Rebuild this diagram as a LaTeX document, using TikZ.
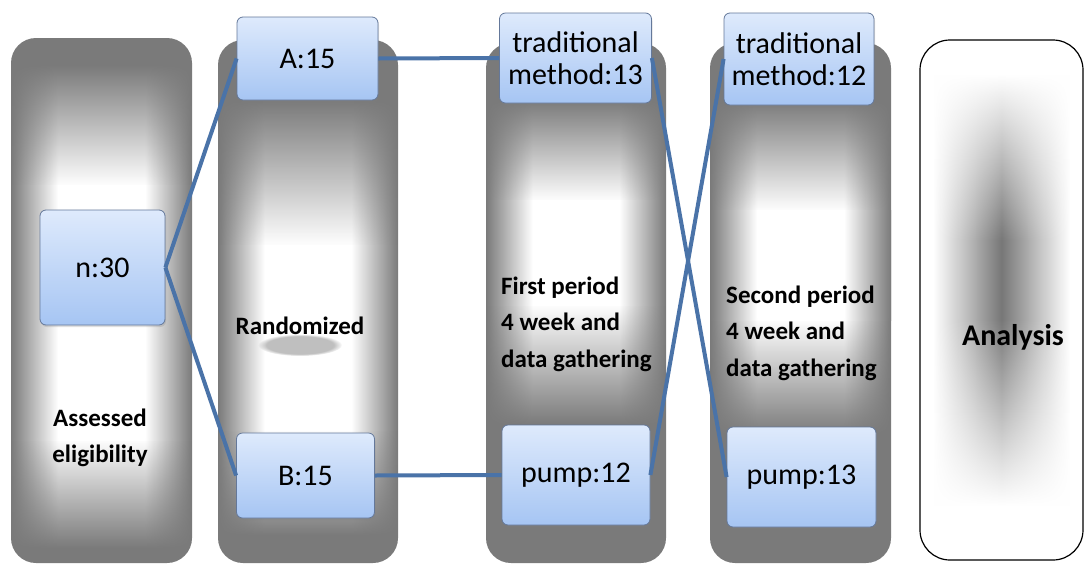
\documentclass[tikz,border=0pt]{standalone}
\usepackage{fontspec}
\setmainfont{Carlito}
\usetikzlibrary{fadings,shadows}
\definecolor{colgray}{HTML}{7A7A7A}
\definecolor{anagray}{HTML}{777777}
\definecolor{analight}{HTML}{C6C6C6}
\definecolor{boxtop}{HTML}{DEEAFC}
\definecolor{boxbot}{HTML}{A6C5F3}
\definecolor{boxline}{HTML}{64789A}
\definecolor{linkblue}{HTML}{4A73A8}
% TikZ maps the middle 50bp (25bp..75bp) of a shading onto the path
\pgfdeclarehorizontalshading{colh}{100bp}{color(0bp)=(colgray); color(25bp)=(colgray); color(38bp)=(white); color(62bp)=(white); color(75bp)=(colgray); color(100bp)=(colgray)}
\pgfdeclarehorizontalshading{anah}{100bp}{color(0bp)=(white); color(25bp)=(white); color(29bp)=(white); color(38bp)=(analight); color(50bp)=(anagray); color(62bp)=(analight); color(71bp)=(white); color(75bp)=(white); color(100bp)=(white)}
\tikzfading[name=fadein, top color=transparent!100, bottom color=transparent!0]
\tikzfading[name=fadeout, top color=transparent!0, bottom color=transparent!100]
% #1 shading, #2 x1, #3 x2, #4 fade-in top, #5 plateau top, #6 plateau bottom, #7 fade-out bottom
\newcommand\glowcol[7]{%
  \shade[shading=#1, path fading=fadein] (#2,#4) rectangle (#3,#5+1);
  \shade[shading=#1] (#2,#5) rectangle (#3,#6);
  \shade[shading=#1, path fading=fadeout] (#2,#6-1) rectangle (#3,#7);
}
\tikzset{
  colbase/.style={fill=colgray, rounded corners=25pt},
  boxnode/.style={draw=boxline, line width=0.8pt, rounded corners=6pt,
    top color=boxtop, bottom color=boxbot, align=center, inner sep=2pt,
    font=\fontsize{30}{32}\selectfont,
    drop shadow={opacity=0.25, shadow xshift=1pt, shadow yshift=-2pt}},
  collabel/.style={font=\bfseries\fontsize{25}{36.5}\selectfont, inner sep=0pt},
  link/.style={draw=linkblue, line width=4pt}
}
\begin{document}
\begin{tikzpicture}[x=1pt, y=-1pt]
\useasboundingbox (0,0) rectangle (1088,563);
\fill[white] (0,0) rectangle (1088,563);

% column 1
\fill[colbase] (11,38) rectangle (192,563);
\begin{scope}
  \clip[rounded corners=25pt] (11,38) rectangle (192,563);
  \glowcol{colh}{11}{192}{65}{185}{440}{548}
\end{scope}
% column 2
\fill[colbase] (218,40) rectangle (398,563);
\begin{scope}
  \clip[rounded corners=25pt] (218,40) rectangle (398,563);
  \glowcol{colh}{218}{398}{100}{245}{430}{535}
  \fill[black!45, opacity=0.55, path fading=circle with fuzzy edge 20 percent] (300,345) ellipse (42 and 11);
\end{scope}
% column 3
\fill[colbase] (486,43) rectangle (666,563);
\begin{scope}
  \clip[rounded corners=25pt] (486,43) rectangle (666,563);
  \glowcol{colh}{486}{666}{100}{200}{305}{425}
\end{scope}
% column 4
\fill[colbase] (710,43) rectangle (891,563);
\begin{scope}
  \clip[rounded corners=25pt] (710,43) rectangle (891,563);
  \glowcol{colh}{710}{891}{100}{210}{320}{435}
\end{scope}
% column 5
\begin{scope}
  \clip[rounded corners=30pt] (920,40) rectangle (1083,560);
  \glowcol{anah}{920}{1083}{75}{240}{320}{505}
\end{scope}
\draw[black, line width=1.2pt, rounded corners=30pt] (920,40) rectangle (1083,560);

% column labels
\node[collabel, align=center] (lab1) at (100,438) {Assessed\\eligibility};
\node[collabel] (lab2) at (300,326) {Randomized};
\node[collabel, align=left, anchor=west] (lab3) at (501,324) {First period\\4 week and\\data gathering};
\node[collabel, align=left, anchor=west] (lab4) at (726,333) {Second period\\4 week and\\data gathering};
\node[collabel, font=\bfseries\fontsize{30}{36}\selectfont] (lab5) at (1013,337) {Analysis};

% boxes
\node[boxnode, minimum width=125pt, minimum height=115pt] (n30) at (102.5,267.5) {n:30};
\node[boxnode, minimum width=141pt, minimum height=83pt] (a15) at (307.5,58.5) {A:15};
\node[boxnode, minimum width=138pt, minimum height=85pt] (b15) at (305.5,475.5) {B:15};
\node[boxnode, minimum width=152pt, minimum height=90pt] (t13) at (575.5,58) {traditional\\method:13};
\node[boxnode, minimum width=150pt, minimum height=92pt] (t12) at (799,59) {traditional\\method:12};
\node[boxnode, minimum width=148pt, minimum height=100pt] (p12) at (576,475) {pump:12};
\node[boxnode, minimum width=149pt, minimum height=100pt] (p13) at (801.5,477) {pump:13};

% connectors
\draw[link] (n30.east) -- (a15.west);
\draw[link] (n30.east) -- (b15.west);
\draw[link] (a15.east) -- (t13.west);
\draw[link] (b15.east) -- (p12.west);
\draw[link] (t13.east) -- (p13.west);
\draw[link] (p12.east) -- (t12.west);
\end{tikzpicture}
\end{document}
